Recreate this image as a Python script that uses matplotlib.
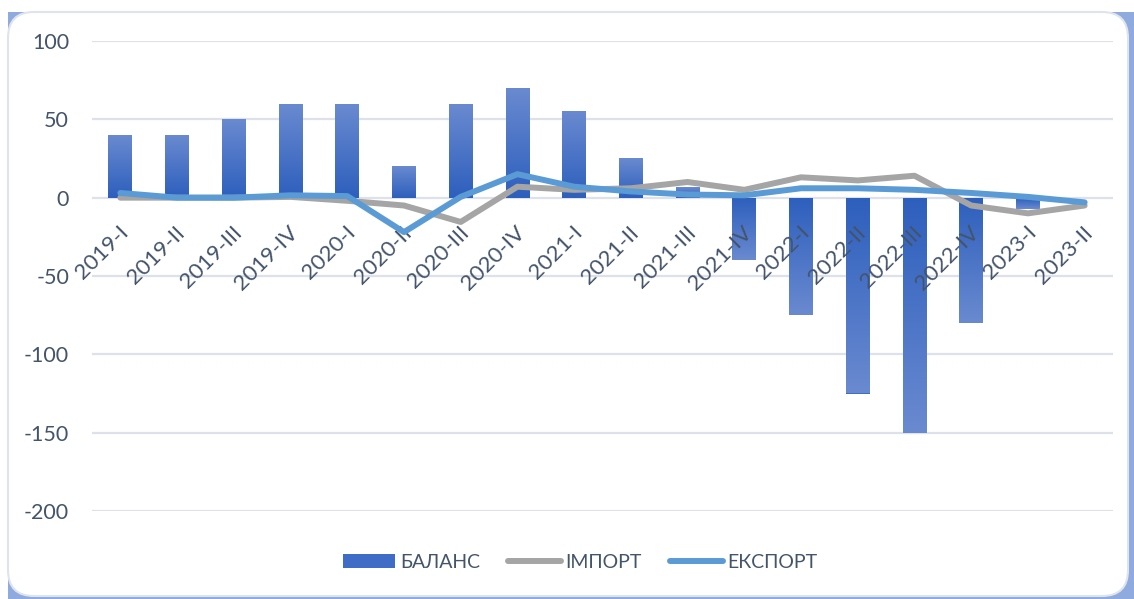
import numpy as np
import matplotlib
matplotlib.use("Agg")
import matplotlib.pyplot as plt
from matplotlib.patches import FancyBboxPatch, Rectangle
from matplotlib.colors import LinearSegmentedColormap
from matplotlib.transforms import ScaledTranslation

plt.rcParams['font.family'] = ['Lato', 'Open Sans', 'DejaVu Sans']

categories = ["2019-I", "2019-II", "2019-III", "2019-IV", "2020-I", "2020-II",
              "2020-III", "2020-IV", "2021-I", "2021-II", "2021-III", "2021-IV",
              "2022-I", "2022-II", "2022-III", "2022-IV", "2023-I", "2023-II"]
balance = [40, 40, 50, 60, 60, 20, 60, 70, 55, 25, 7, -40, -75, -125, -150, -80, -7, 0]
imports = [0, 0, 0, 0.5, -2, -5, -15.5, 7, 5, 6, 10, 5, 13, 11, 14, -5, -10, -5]
exports = [3, 0, 0, 1.5, 1, -22, 0.5, 15, 7, 4, 2, 1.5, 6, 6, 5, 3, 0.5, -3]
yticks = [100, 50, 0, -50, -100, -150, -200]
series_names = ["БАЛАНС", "ІМПОРТ", "ЕКСПОРТ"]

W, H = 1134, 599
fig = plt.figure(figsize=(W / 100, H / 100), dpi=100)

# background frame
bg = fig.add_axes([0, 0, 1, 1], zorder=-10)
bg.set_xlim(0, W)
bg.set_ylim(H, 0)
bg.axis('off')
bg.add_patch(Rectangle((8, 12), W - 8, H - 12, facecolor='#8eaadf', edgecolor='none'))
bg.add_patch(FancyBboxPatch((8, 12), W - 8 - 6, H - 12 - 3,
                            boxstyle="round,pad=0,rounding_size=26",
                            facecolor='white', edgecolor='#dfe4ec', linewidth=1.5))

text_color = '#44546a'
ax = fig.add_axes([92 / W, 1 - 511 / H, (1113 - 92) / W, (511 - 41) / H])
ax.set_facecolor('none')

x = np.arange(len(categories))
for t in yticks:
    ax.axhline(t, color='#dde2ea', linewidth=1.6, zorder=0.5)

bars = ax.bar(x, balance, width=0.42, color='#3f6cc7', zorder=1, label=series_names[0])

cmap = LinearSegmentedColormap.from_list('g', ['#2d5fbd', '#6a8ad0'])
for b, v in zip(bars, balance):
    if v == 0:
        continue
    x0, w = b.get_x(), b.get_width()
    y0, h = b.get_y(), b.get_height()
    ylo, yhi = min(y0, y0 + h), max(y0, y0 + h)
    grad = np.linspace(0, 1, 256).reshape(-1, 1)
    if v < 0:
        grad = grad[::-1]
    im = ax.imshow(grad, extent=[x0, x0 + w, ylo, yhi], origin='lower',
                   aspect='auto', cmap=cmap, zorder=1.1, interpolation='bilinear')
    im.set_clip_path(b)

l_imp, = ax.plot(x, imports, color='#a5a5a5', linewidth=4.3, solid_capstyle='round',
                 solid_joinstyle='round', zorder=3, label=series_names[1])
l_exp, = ax.plot(x, exports, color='#5b9bd5', linewidth=4.3, solid_capstyle='round',
                 solid_joinstyle='round', zorder=4, label=series_names[2])

ax.set_xlim(-0.5, len(categories) - 0.5)
ax.set_ylim(-200, 100)
ax.set_yticks(yticks)
ax.set_yticklabels([str(t) for t in yticks])
for s in ax.spines.values():
    s.set_visible(False)
ax.spines['bottom'].set_position(('data', 0))
ax.set_xticks(x)
ax.set_xticklabels(categories, rotation=45, ha='right', va='center',
                   rotation_mode='anchor')
ax.tick_params(axis='x', length=0, pad=23, labelsize=16, labelcolor=text_color)
ax.tick_params(axis='y', length=0, pad=16.5, labelsize=15.5, labelcolor=text_color)
ax.xaxis.set_zorder(2)
ax.yaxis.set_zorder(2)
shift = ScaledTranslation(0.05, 0, fig.dpi_scale_trans)
for lab in ax.get_xticklabels():
    lab.set_transform(lab.get_transform() + shift)

leg = fig.legend([bars, l_imp, l_exp], series_names, loc='center',
                 bbox_to_anchor=(580 / W, 1 - 562 / H),
                 ncol=3, frameon=False, fontsize=14, labelcolor=text_color,
                 handlelength=2.7, handleheight=0.72, handletextpad=0.25,
                 columnspacing=1.45)

fig.savefig('out.png', dpi=100)
